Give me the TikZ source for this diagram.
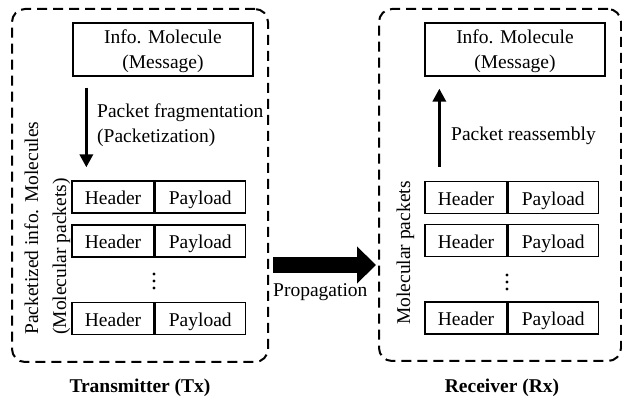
\documentclass[tikz,border=0pt]{standalone}
\usepackage{fontspec}
\setmainfont{Liberation Serif}
\usetikzlibrary{arrows.meta}
\begin{document}
\begin{tikzpicture}[x=1pt,y=-1pt,
  font=\fontsize{19.5}{25}\selectfont,
  stagebox/.style={draw, dash pattern=on 10pt off 6pt, line width=2pt, rounded corners=13pt, inner sep=0},
  infobox/.style={draw, line width=1.3pt, minimum width=180pt, minimum height=53pt, align=center, inner sep=0, text depth=0pt},
  cellbase/.style={draw, line width=1.3pt, minimum height=32pt, inner sep=0, text height=17pt, text depth=1.4pt},
  hcell/.style={cellbase, minimum width=82pt},
  pcell/.style={cellbase, minimum width=90pt, anchor=west},
  flow/.style={line width=3.5pt, -{Triangle[length=13pt,width=13pt]}},
  bigarrow/.style={line width=16pt, -{Triangle[length=19pt,width=36pt]}},
  captext/.style={font=\fontsize{19.5}{25}\selectfont\bfseries, anchor=base, inner sep=0},
  lbl/.style={anchor=base west, inner sep=0},
  vlbl/.style={anchor=base west, inner sep=0, rotate=90},
  pdot/.style={circle, fill, inner sep=0, minimum size=3.2pt}
]
\useasboundingbox (0,0) rectangle (622,398);

% stage frames
\node[stagebox, minimum width=256pt, minimum height=353pt] (tx) at (140,185.5) {};
\node[stagebox, minimum width=242pt, minimum height=352pt] (rx) at (500,185) {};

% message boxes
\node[infobox] (txinfo) at (163,49.5) {Info. Molecule\\(Message)};
\node[infobox] (rxinfo) at (515,49.5) {Info. Molecule\\(Message)};

% transmitter packets
\node[hcell] (txh1) at (113,197) {Header};
\node[pcell] (txp1) at (txh1.east) {Payload};
\node[hcell] (txh2) at (113,241) {Header};
\node[pcell] (txp2) at (txh2.east) {Payload};
\node[hcell] (txh3) at (113,318.5) {Header};
\node[pcell] (txp3) at (txh3.east) {Payload};
\node[pdot] (txd1) at (154,274) {};
\node[pdot] (txd2) at (154,281) {};
\node[pdot] (txd3) at (154,288) {};

% receiver packets
\node[hcell] (rxh1) at (466,197.5) {Header};
\node[pcell] (rxp1) at (rxh1.east) {Payload};
\node[hcell] (rxh2) at (466,240.5) {Header};
\node[pcell] (rxp2) at (rxh2.east) {Payload};
\node[hcell] (rxh3) at (466,318) {Header};
\node[pcell] (rxp3) at (rxh3.east) {Payload};
\node[pdot] (rxd1) at (507,275) {};
\node[pdot] (rxd2) at (507,282) {};
\node[pdot] (rxd3) at (507,289) {};

% arrows
\draw[flow] ([xshift=14pt,yshift=-11pt]txinfo.south west) -- ([xshift=15pt,yshift=13pt]txh1.north west);
\draw[flow] ([xshift=15pt,yshift=14pt]rxh1.north west) -- ([xshift=15pt,yshift=-12pt]rxinfo.south west);
\draw[bigarrow] ([xshift=4pt,yshift=-79.5pt]tx.east) -- ([xshift=-2pt,yshift=-80pt]rx.west);

% labels
\node[vlbl] (txlab1) at (38,335) {Packetized info. Molecules};
\node[vlbl] (txlab2) at (66,335) {(Molecular packets)};
\node[vlbl] (rxlab) at (410,325) {Molecular packets};
\node[anchor=north west, inner sep=0, align=left] (fraglab) at (97,104) {Packet fragmentation\\(Packetization)};
\node[lbl] (reaslab) at (451,141) {Packet reassembly};
\node[lbl] (proplab) at (273,297) {Propagation};
\node[captext] (txcap) at (140,392) {Transmitter (Tx)};
\node[captext] (rxcap) at (502,392) {Receiver (Rx)};
\end{tikzpicture}
\end{document}
